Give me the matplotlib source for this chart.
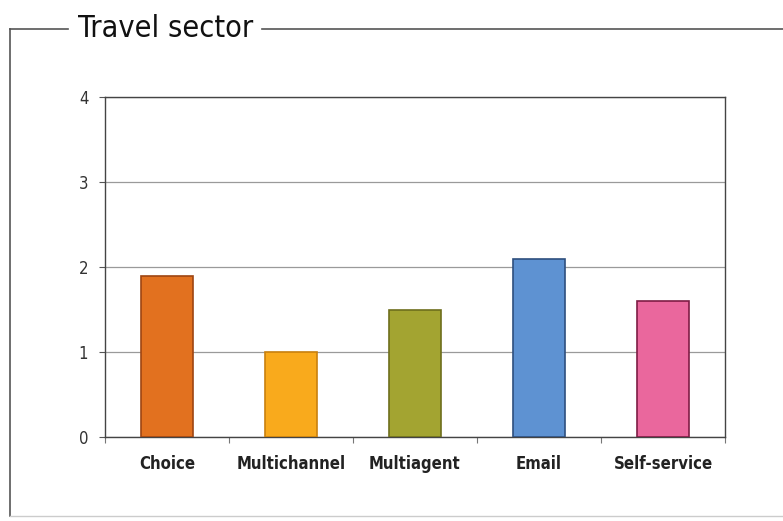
import matplotlib
matplotlib.use("Agg")
import matplotlib.pyplot as plt
from matplotlib.lines import Line2D

# channel scores for the travel sector
channels = ["Choice", "Multichannel", "Multiagent", "Email", "Self-service"]
scores = [1.9, 1.0, 1.5, 2.1, 1.6]
y_ticks = [0, 1, 2, 3, 4]

fill_colors = ["#E2711F", "#F9AA1C", "#A3A431", "#5E92D2", "#EA679D"]
edge_colors = ["#9E4512", "#C9800E", "#6E6E1C", "#2E4F7E", "#7E1C45"]

plt.rcParams["font.family"] = ["DejaVu Sans"]
plt.rcParams["font.stretch"] = "condensed"

fig = plt.figure(figsize=(7.83, 5.21), dpi=100)
ax = fig.add_axes([0.134, 0.161, 0.792, 0.653])

x = range(len(channels))
ax.bar(x, scores, width=0.42, color=fill_colors, edgecolor=edge_colors,
       linewidth=1.2, zorder=3)

ax.set_ylim(0, 4)
ax.set_xlim(-0.5, len(channels) - 0.5)
ax.set_yticks(y_ticks)
ax.set_yticklabels([str(t) for t in y_ticks], fontsize=12, color="#333333")
ax.set_xticks(list(x))
ax.set_xticklabels(channels, fontsize=12, fontweight="bold", color="#222222")
ax.tick_params(axis="x", length=0, pad=13)
ax.tick_params(axis="y", length=4, width=0.8, color="#555555", pad=8)

# small separators between categories below the baseline
ax.set_xticks([i + 0.5 for i in range(-1, len(channels))], minor=True)
ax.tick_params(axis="x", which="minor", length=4, width=0.8, color="#777777")

ax.yaxis.grid(True, color="#9a9a9a", linewidth=0.9, zorder=0)
for side in ["left", "top", "right", "bottom"]:
    ax.spines[side].set_color("#444444")
    ax.spines[side].set_linewidth(1.0)

# outer frame with the heading set into the top rule
frame_kw = dict(transform=fig.transFigure, color="#555555", linewidth=1.2)
fig.add_artist(Line2D([0.013, 0.013], [0.01, 0.944], **frame_kw))
fig.add_artist(Line2D([0.013, 0.087], [0.944, 0.944], **frame_kw))
fig.add_artist(Line2D([0.335, 1.0], [0.944, 0.944], **frame_kw))
fig.add_artist(Line2D([0.013, 1.0], [0.01, 0.01], transform=fig.transFigure,
                      color="#cccccc", linewidth=1.0))
fig.text(0.099, 0.946, "Travel sector", fontsize=22, color="#111111",
         ha="left", va="center")

fig.savefig("out.png", dpi=100, facecolor="white")
